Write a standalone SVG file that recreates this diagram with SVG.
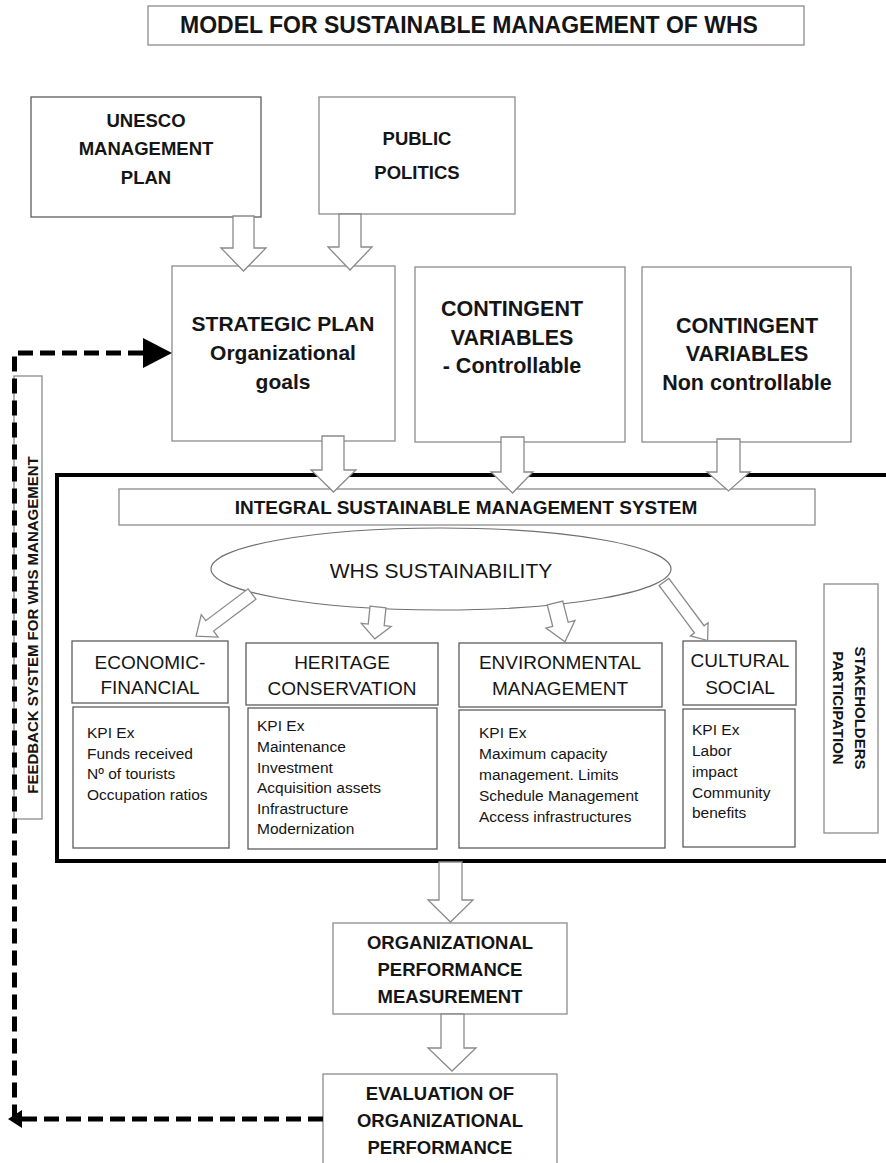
<svg xmlns="http://www.w3.org/2000/svg" width="886" height="1163" viewBox="0 0 886 1163">
  <style>
    .box { fill: #fff; stroke: #8c8c8c; stroke-width: 1.3; }
    .dk { stroke: #5c5c5c; }
    .blk { fill: #fff; stroke: #8a8a8a; stroke-width: 1.3; stroke-linejoin: miter; }
    .frame { fill: none; stroke: #000; stroke-width: 4; }
    .fb { fill: none; stroke: #000; stroke-width: 5; stroke-dasharray: 15 7; }
    text { font-family: "Liberation Sans", Arial, sans-serif; fill: #151515; }
    .b { font-weight: bold; text-anchor: middle; }
    .r { text-anchor: middle; }
    .kpi { font-size: 15.5px; }
  </style>

  <!-- title -->
  <g id="title">
    <rect class="box" x="148" y="6" width="656" height="39"/>
    <text x="180" y="33" font-size="23" font-weight="bold">MODEL FOR SUSTAINABLE  MANAGEMENT OF WHS</text>
  </g>

  <!-- inputs -->
  <g id="unesco">
    <rect class="box dk" x="31" y="97" width="230" height="120"/>
    <text class="b" x="146" y="127" font-size="18.5">UNESCO</text>
    <text class="b" x="146" y="155" font-size="18.5">MANAGEMENT</text>
    <text class="b" x="146" y="184" font-size="18.5">PLAN</text>
  </g>
  <g id="public">
    <rect class="box" x="319" y="97" width="196" height="117"/>
    <text class="b" x="417" y="145" font-size="18.5">PUBLIC</text>
    <text class="b" x="417" y="179" font-size="18.5">POLITICS</text>
  </g>

  <g id="strategic">
    <rect class="box" x="172" y="266" width="223" height="175"/>
    <text class="b" x="283" y="331" font-size="21">STRATEGIC PLAN</text>
    <text class="b" x="283" y="360" font-size="21">Organizational</text>
    <text class="b" x="283" y="389" font-size="21">goals</text>
  </g>
  <g id="contingent-controllable">
    <rect class="box" x="415" y="267" width="210" height="175"/>
    <text class="b" x="512" y="316" font-size="21.5">CONTINGENT</text>
    <text class="b" x="512" y="345" font-size="21.5">VARIABLES</text>
    <text class="b" x="512" y="373" font-size="21.5">- Controllable</text>
  </g>
  <g id="contingent-noncontrollable">
    <rect class="box" x="642" y="267" width="209" height="175"/>
    <text class="b" x="747" y="333" font-size="21.5">CONTINGENT</text>
    <text class="b" x="747" y="361" font-size="21.5">VARIABLES</text>
    <text class="b" x="747" y="390" font-size="21.5">Non controllable</text>
  </g>

  <!-- feedback side panel -->
  <g id="feedback">
    <rect class="box" x="14" y="376" width="28" height="443"/>
    <text class="b" font-size="15" transform="translate(38,625) rotate(-90)">FEEDBACK SYSTEM FOR WHS MANAGEMENT</text>
  </g>

  <!-- management system frame -->
  <g id="system">
    <rect class="frame" x="57" y="475" width="840" height="386"/>
  </g>

  <g id="integral">
    <rect class="box" x="119" y="489" width="696" height="36"/>
    <text class="b" x="466" y="514" font-size="19">INTEGRAL SUSTAINABLE MANAGEMENT SYSTEM</text>
  </g>

  <g id="sustainability">
    <ellipse cx="441" cy="569" rx="230" ry="41" fill="#fff" stroke="#707070" stroke-width="1.2"/>
    <text class="r" x="441" y="578" font-size="21">WHS SUSTAINABILITY</text>
  </g>

  <g id="economic">
    <rect class="box dk" x="72" y="641" width="156" height="62"/>
    <text class="r" x="150" y="669" font-size="19">ECONOMIC-</text>
    <text class="r" x="150" y="694" font-size="19">FINANCIAL</text>
    <rect class="box dk" x="73" y="707" width="156" height="141"/>
    <text class="kpi" x="87" y="738">KPI Ex</text>
    <text class="kpi" x="87" y="759">Funds received</text>
    <text class="kpi" x="87" y="779">Nº of tourists</text>
    <text class="kpi" x="87" y="800">Occupation ratios</text>
  </g>

  <g id="heritage">
    <rect class="box dk" x="246" y="643" width="192" height="62"/>
    <text class="r" x="342" y="669" font-size="19">HERITAGE</text>
    <text class="r" x="342" y="695" font-size="19">CONSERVATION</text>
    <rect class="box dk" x="248" y="708" width="189" height="141"/>
    <text class="kpi" x="257" y="731">KPI Ex</text>
    <text class="kpi" x="257" y="752">Maintenance</text>
    <text class="kpi" x="257" y="773">Investment</text>
    <text class="kpi" x="257" y="793">Acquisition assets</text>
    <text class="kpi" x="257" y="814">Infrastructure</text>
    <text class="kpi" x="257" y="834">Modernization</text>
  </g>

  <g id="environmental">
    <rect class="box dk" x="459" y="643" width="203" height="64"/>
    <text class="r" x="560" y="669" font-size="19">ENVIRONMENTAL</text>
    <text class="r" x="560" y="695" font-size="19">MANAGEMENT</text>
    <rect class="box dk" x="459" y="710" width="206" height="138"/>
    <text class="kpi" x="479" y="738">KPI Ex</text>
    <text class="kpi" x="479" y="759">Maximum capacity</text>
    <text class="kpi" x="479" y="780">management. Limits</text>
    <text class="kpi" x="479" y="801">Schedule Management</text>
    <text class="kpi" x="479" y="822">Access infrastructures</text>
  </g>

  <g id="cultural">
    <rect class="box dk" x="683" y="641" width="113" height="64"/>
    <text class="r" x="740" y="667" font-size="19">CULTURAL</text>
    <text class="r" x="740" y="694" font-size="19">SOCIAL</text>
    <rect class="box dk" x="683" y="709" width="112" height="138"/>
    <text class="kpi" x="692" y="735">KPI Ex</text>
    <text class="kpi" x="692" y="756">Labor</text>
    <text class="kpi" x="692" y="777">impact</text>
    <text class="kpi" x="692" y="798">Community</text>
    <text class="kpi" x="692" y="818">benefits</text>
  </g>

  <g id="stakeholders">
    <rect class="box" x="824" y="584" width="54" height="249"/>
    <text class="b" font-size="15" transform="translate(855,708) rotate(90)">STAKEHOLDERS</text>
    <text class="b" font-size="15" transform="translate(833,708) rotate(90)">PARTICIPATION</text>
  </g>

  <g id="performance-measurement">
    <rect class="box" x="333" y="923" width="234" height="91"/>
    <text class="b" x="450" y="949" font-size="18.5">ORGANIZATIONAL</text>
    <text class="b" x="450" y="976" font-size="18.5">PERFORMANCE</text>
    <text class="b" x="450" y="1003" font-size="18.5">MEASUREMENT</text>
  </g>

  <g id="performance-evaluation">
    <rect class="box" x="323" y="1074" width="234" height="100"/>
    <text class="b" x="440" y="1100" font-size="18.5">EVALUATION OF</text>
    <text class="b" x="440" y="1127" font-size="18.5">ORGANIZATIONAL</text>
    <text class="b" x="440" y="1154" font-size="18.5">PERFORMANCE</text>
  </g>

  <!-- connectors -->
  <g id="connectors">
    <!-- block arrows -->
    <polygon class="blk" points="233,216 254,216 254,248 266,248 243.5,271 221,248 233,248"/>
    <polygon class="blk" points="339,214 361,214 361,247 372,247 350,270 328,247 339,247"/>
    <polygon class="blk" points="322,436 344,436 344,470 356,470 333.5,492 311,470 322,470"/>
    <polygon class="blk" points="501,437 524,437 524,472 533,472 512.5,493 491,472 501,472"/>
    <polygon class="blk" points="717,439 740,439 740,472 750,472 728.5,491 707,472 717,472"/>
    <polygon class="blk" points="439,862 462,862 462,900 473,900 450.5,922 428,900 439,900"/>
    <polygon class="blk" points="441,1014 464,1014 464,1048 476,1048 452,1071 428,1048 441,1048"/>

    <!-- arrows from the sustainability ellipse -->
    <polygon class="blk" transform="translate(252,594) rotate(53)" points="-6.5,0 6.5,0 6.5,53 14,53 0,70 -14,53 -6.5,53"/>
    <polygon class="blk" transform="translate(378,607) rotate(5.7)" points="-8,0 8,0 8,18 15,18 0,32 -15,18 -8,18"/>
    <polygon class="blk" transform="translate(555,603) rotate(-14.4)" points="-8,0 8,0 8,22 15,22 0,40 -15,22 -8,22"/>
    <polygon class="blk" transform="translate(664,582) rotate(-36.7)" points="-6,0 6,0 6,59 11,59 0,73 -11,59 -6,59"/>

    <!-- feedback loop -->
    <path class="fb" d="M323,1119 H14.5 V353 H143"/>
    <polygon points="143,338 172,353 143,368" fill="#000"/>
    <polygon points="8,1119 22,1110 22,1128" fill="#000"/>
  </g>
</svg>
